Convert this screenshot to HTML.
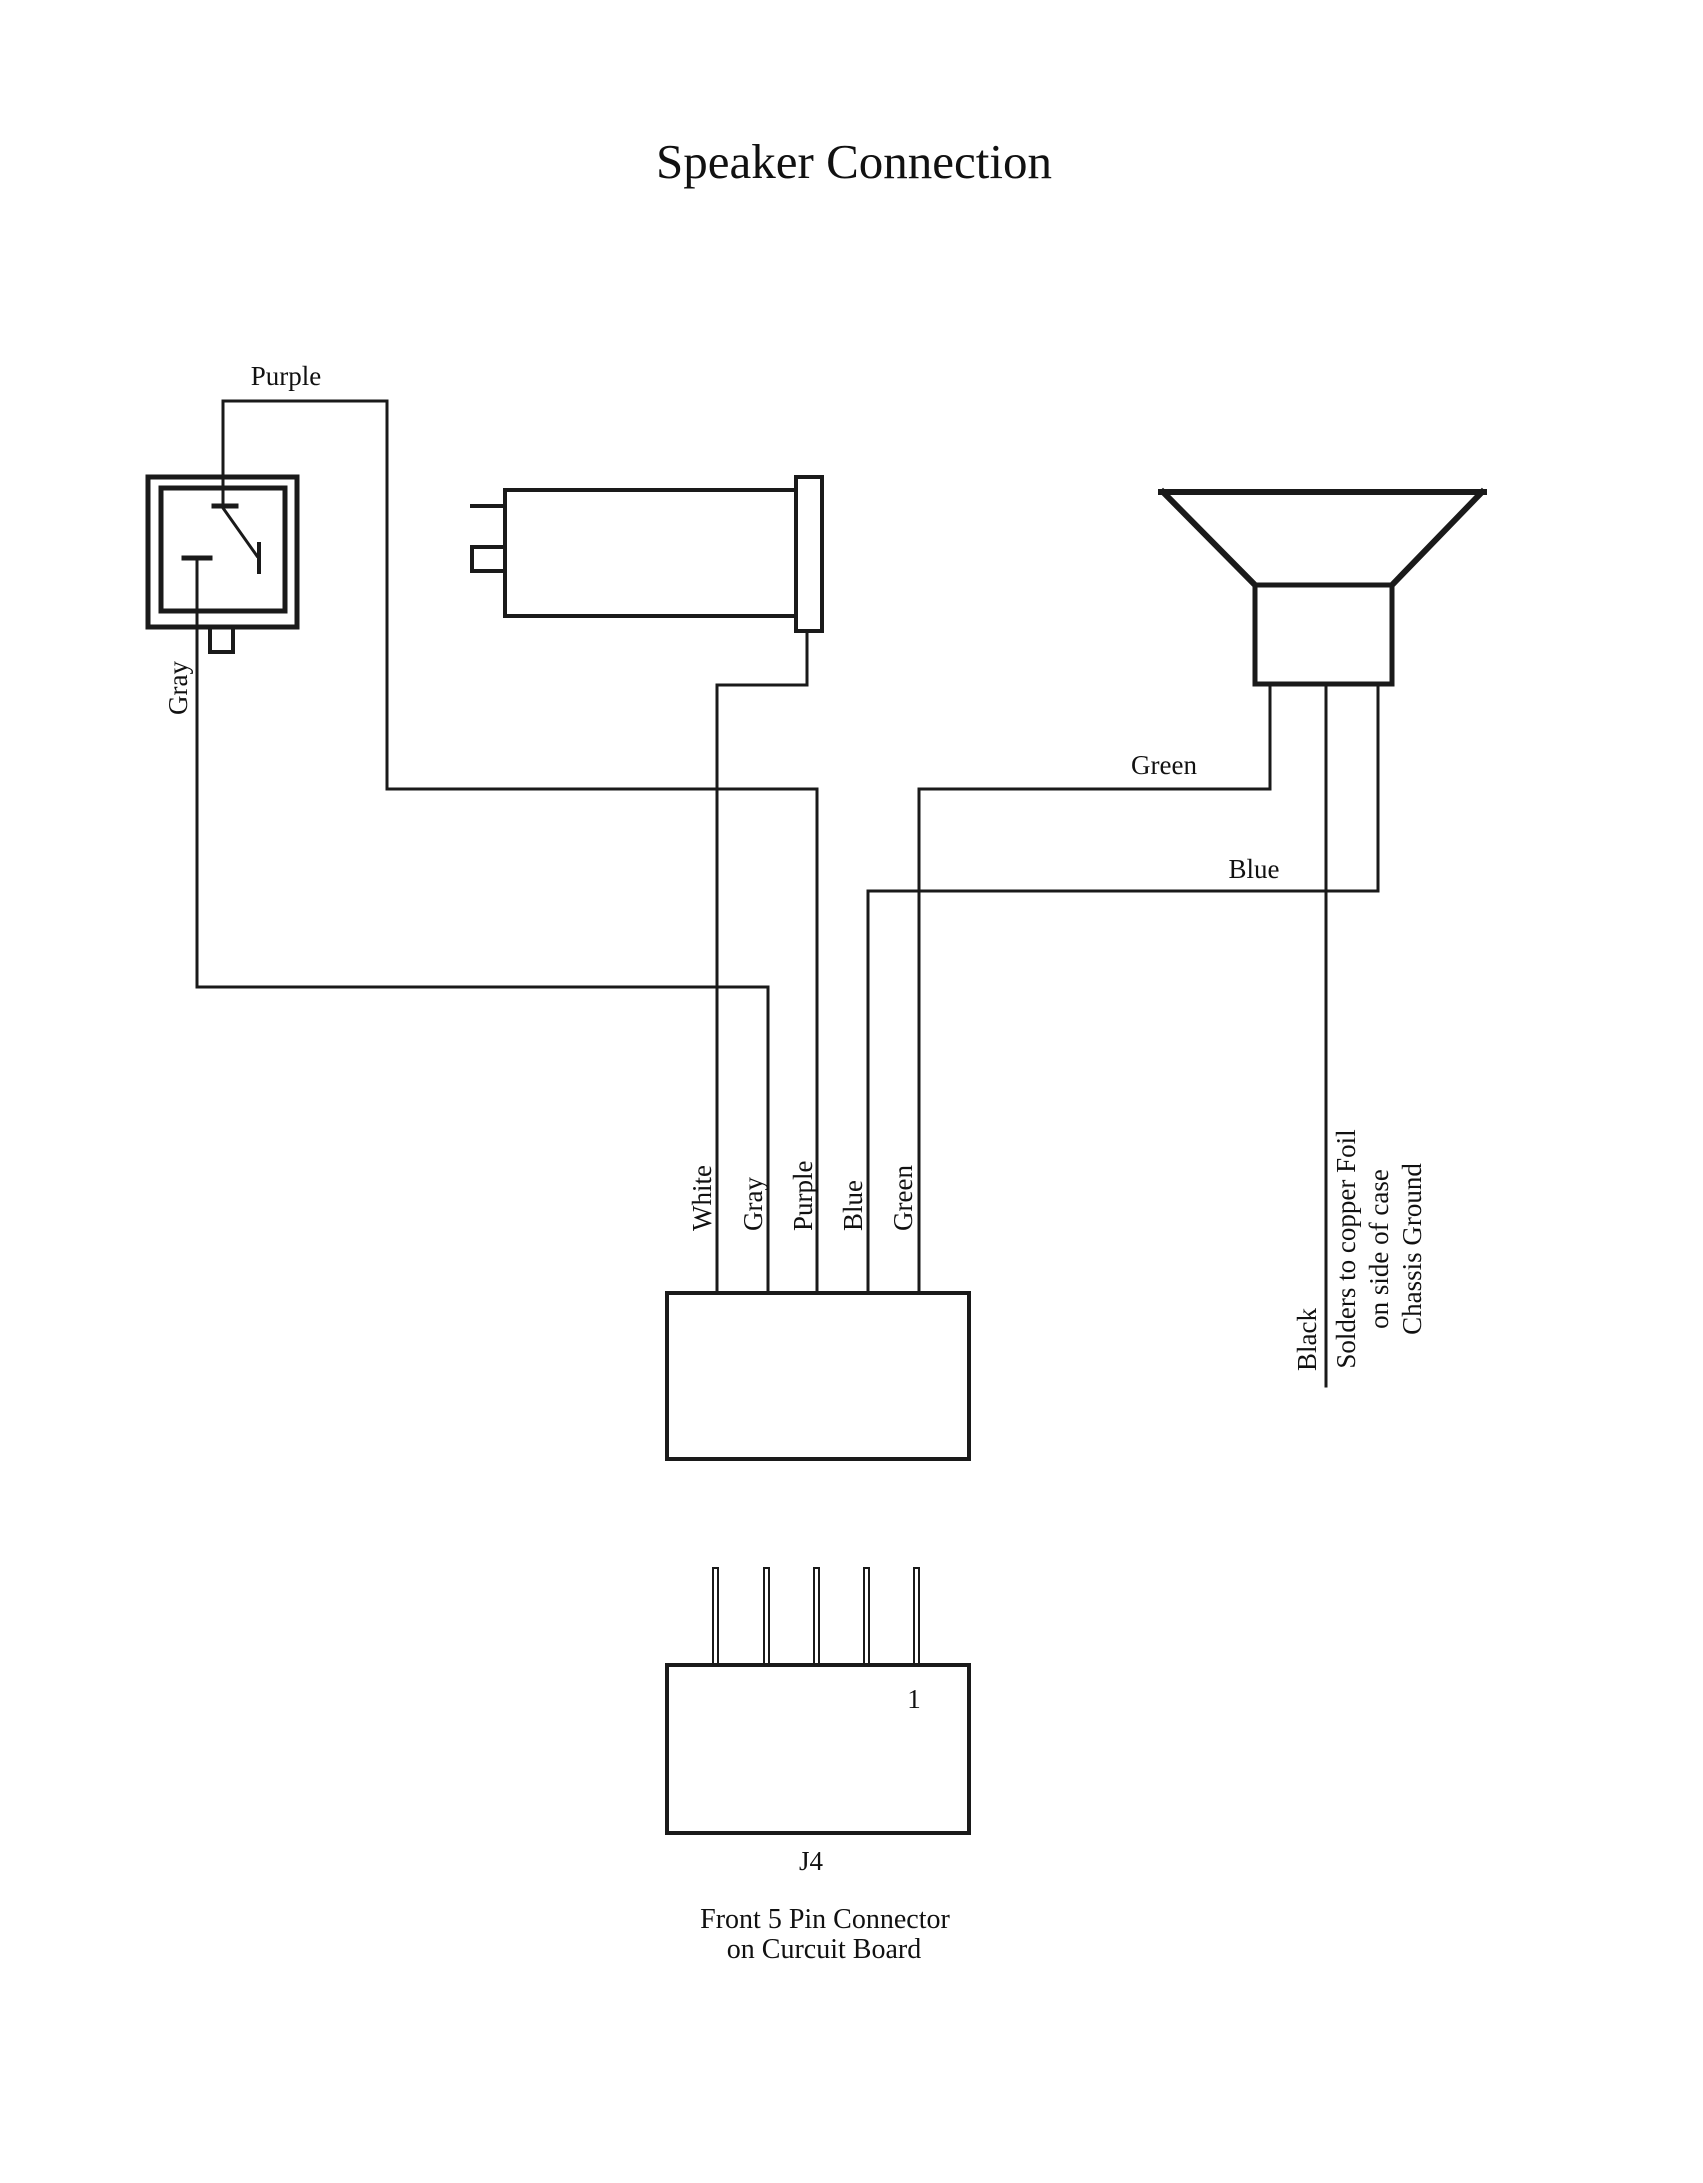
<!DOCTYPE html>
<html><head><style>
html,body{margin:0;padding:0;background:#fff;}
svg{display:block;}
text{font-family:"Liberation Serif",serif;fill:#111;}
</style></head><body>
<svg width="1703" height="2183" viewBox="0 0 1703 2183" xmlns="http://www.w3.org/2000/svg">
<g fill="none" stroke="#1a1a1a" stroke-linecap="square">
<text x="854" y="178" font-size="49" text-anchor="middle" stroke="none">Speaker Connection</text>

<rect x="148" y="477" width="149" height="150" stroke-width="5"/>
<rect x="161" y="488" width="124" height="123" stroke-width="5"/>
<rect x="210" y="627" width="23" height="25" stroke-width="4"/>
<line x1="214" y1="506" x2="236" y2="506" stroke-width="5"/>
<line x1="223" y1="508" x2="257" y2="556" stroke-width="3"/>
<line x1="259" y1="544" x2="259" y2="572" stroke-width="4"/>
<line x1="184" y1="558" x2="210" y2="558" stroke-width="5"/>

<polyline points="223,506 223,401 387,401 387,789 817,789 817,1293" stroke-width="3"/>
<polyline points="197,558 197,987 768,987 768,1293" stroke-width="3"/>

<rect x="505" y="490" width="291" height="126" stroke-width="4"/>
<rect x="796" y="477" width="26" height="154" stroke-width="4"/>
<line x1="472" y1="506" x2="505" y2="506" stroke-width="4"/>
<rect x="472" y="547" width="33" height="24" stroke-width="4"/>
<polyline points="807,631 807,685 717,685 717,1293" stroke-width="3"/>

<line x1="1161" y1="492" x2="1484" y2="492" stroke-width="6"/>
<line x1="1163" y1="492" x2="1255" y2="585" stroke-width="6"/>
<line x1="1482" y1="492" x2="1392" y2="585" stroke-width="6"/>
<rect x="1255" y="585" width="137" height="99" stroke-width="5"/>
<polyline points="1270,684 1270,789 919,789 919,1293" stroke-width="3"/>
<polyline points="1378,684 1378,891 868,891 868,1293" stroke-width="3"/>
<line x1="1326" y1="684" x2="1326" y2="1386" stroke-width="3"/>

<rect x="667" y="1293" width="302" height="166" stroke-width="4"/>

<rect x="713" y="1568" width="5" height="97" stroke-width="2"/>
<rect x="764" y="1568" width="5" height="97" stroke-width="2"/>
<rect x="814" y="1568" width="5" height="97" stroke-width="2"/>
<rect x="864" y="1568" width="5" height="97" stroke-width="2"/>
<rect x="914" y="1568" width="5" height="97" stroke-width="2"/>
<rect x="667" y="1665" width="302" height="168" stroke-width="4"/>
</g>

<g font-size="27">
<text x="286" y="385" text-anchor="middle">Purple</text>
<text x="1164" y="774" text-anchor="middle">Green</text>
<text x="1254" y="878" text-anchor="middle">Blue</text>
<text transform="translate(187,688) rotate(-90)" text-anchor="middle">Gray</text>

<text transform="translate(711,1231) rotate(-90)">White</text>
<text transform="translate(762,1231) rotate(-90)">Gray</text>
<text transform="translate(812,1231) rotate(-90)">Purple</text>
<text transform="translate(862,1231) rotate(-90)">Blue</text>
<text transform="translate(912,1231) rotate(-90)">Green</text>

<text transform="translate(1316,1371) rotate(-90)">Black</text>
<text transform="translate(1355,1249) rotate(-90)" text-anchor="middle">Solders to copper Foil</text>
<text transform="translate(1388,1249) rotate(-90)" text-anchor="middle">on side of case</text>
<text transform="translate(1421,1249) rotate(-90)" text-anchor="middle">Chassis Ground</text>

<text x="914" y="1708" text-anchor="middle">1</text>
<text x="811" y="1870" text-anchor="middle">J4</text>
<text x="825" y="1928" text-anchor="middle" font-size="28">Front 5 Pin Connector</text>
<text x="824" y="1958" text-anchor="middle" font-size="28">on Curcuit Board</text>
</g>
</svg>
</body></html>
